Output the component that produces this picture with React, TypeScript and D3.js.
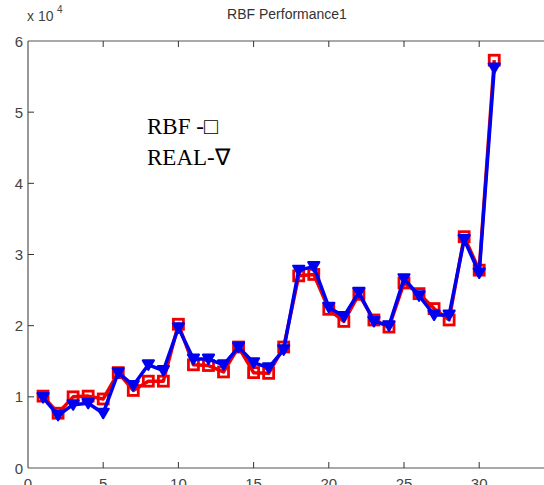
import React from "react";
import * as d3 from "d3";

const xValues = [1,2,3,4,5,6,7,8,9,10,11,12,13,14,15,16,17,18,19,20,21,22,23,24,25,26,27,28,29,30,31];
const rbfValues = [1.01,0.77,1.0,1.01,0.97,1.34,1.09,1.22,1.22,2.02,1.45,1.44,1.35,1.7,1.34,1.33,1.7,2.7,2.72,2.23,2.06,2.44,2.08,1.98,2.6,2.45,2.24,2.08,3.25,2.78,5.73];
const realValues = [0.99,0.74,0.89,0.91,0.77,1.34,1.16,1.45,1.37,1.97,1.53,1.53,1.45,1.7,1.48,1.41,1.66,2.78,2.83,2.26,2.13,2.47,2.06,2.0,2.66,2.42,2.15,2.15,3.21,2.74,5.62];
const xTicks = [0,5,10,15,20,25,30];
const yTicks = [0,1,2,3,4,5,6];

const W = 544, H = 485;
const left = 28, top = 41, bottom = 468;
const x = d3.scaleLinear().domain([0, 35]).range([left, left + 35 * 15.04]);
const y = d3.scaleLinear().domain([0, 6]).range([bottom, top]);

export default function App() {
  const line = d3.line<number>().x((_, i) => x(xValues[i])).y((d) => y(d));
  const right = x(35);
  const axisColor = "#555";
  const font = "Arial, 'Liberation Sans', sans-serif";
  const red = "#f00000";
  const blue = "#0000f0";
  const tri = (cx: number, cy: number) => {
    const s = 5.5;
    return `M${cx - s},${cy - s * 0.8}L${cx + s},${cy - s * 0.8}L${cx},${cy + s * 0.9}Z`;
  };
  return (
    <div style={{ position: "absolute", left: 0, top: 0 }}>
      <svg width={W} height={H} style={{ display: "block", background: "#fff" }}>
        <rect x={0} y={0} width={W} height={H} fill="#fff" />
        <text x={287} y={19} textAnchor="middle" fontFamily={font} fontSize={14} fill="#333">RBF Performance1</text>
        <text x={27} y={21} fontFamily={font} fontSize={14} fill="#444">x 10</text>
        <text x={57} y={13} fontFamily={font} fontSize={10} fill="#444">4</text>
        <line x1={left} x2={right} y1={top} y2={top} stroke={axisColor} strokeWidth={1.2} />
        <line x1={left} x2={right} y1={bottom} y2={bottom} stroke={axisColor} strokeWidth={1.2} />
        <line x1={left} x2={left} y1={top} y2={bottom} stroke={axisColor} strokeWidth={1.2} />
        {xTicks.map((t) => (
          <g key={"xt" + t}>
            {t > 0 && <line x1={x(t)} x2={x(t)} y1={bottom} y2={bottom - 6} stroke="#333" />}
            {t > 0 && <line x1={x(t)} x2={x(t)} y1={top} y2={top + 6} stroke="#333" />}
            <text x={x(t)} y={489} textAnchor="middle" fontFamily={font} fontSize={15} fill="#444">{t}</text>
          </g>
        ))}
        {yTicks.map((t) => (
          <g key={"yt" + t}>
            {t > 0 && t < 6 && <line x1={left} x2={left + 6} y1={y(t)} y2={y(t)} stroke="#333" />}
            <text x={23} y={y(t) + 5.5} textAnchor="end" fontFamily={font} fontSize={15} fill="#444">{t}</text>
          </g>
        ))}
        <text x={147} y={134} fontFamily="'Liberation Serif', 'Times New Roman', serif" fontSize={23} fill="#000">RBF -□</text>
        <text x={147} y={165} fontFamily="'Liberation Serif', 'Times New Roman', serif" fontSize={23} fill="#000">REAL-∇</text>
        <path d={line(rbfValues) || ""} fill="none" stroke={red} strokeWidth={3.5} strokeLinejoin="round" />
        {rbfValues.map((v, i) => (
          <rect key={"r" + i} x={x(xValues[i]) - 5} y={y(v) - 5} width={10} height={10} fill="none" stroke={red} strokeWidth={2.8} />
        ))}
        <path d={line(realValues) || ""} fill="none" stroke={blue} strokeWidth={3.5} strokeLinejoin="round" />
        {realValues.map((v, i) => (
          <path key={"b" + i} d={tri(x(xValues[i]), y(v))} fill={blue} stroke={blue} strokeWidth={2.2} strokeLinejoin="round" />
        ))}
      </svg>
    </div>
  );
}
